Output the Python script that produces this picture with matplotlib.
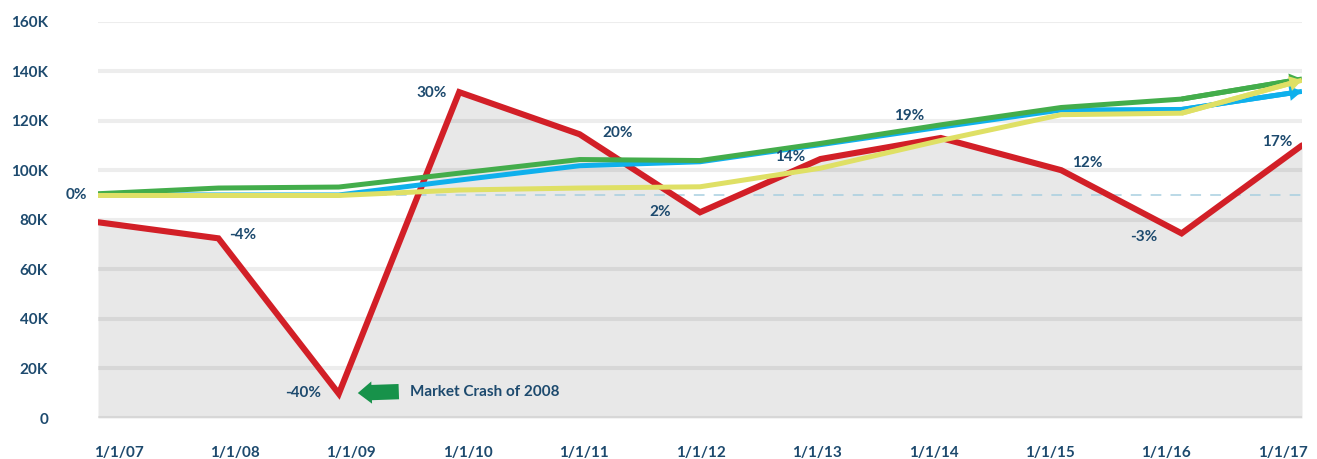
#!/usr/bin/env python3
# Динамика портфелей 2007-2017 и годовая доходность (красная линия)

import numpy as np
import matplotlib.pyplot as plt

# --- Данные ---
DATES = ["1/1/07", "1/1/08", "1/1/09", "1/1/10", "1/1/11", "1/1/12",
         "1/1/13", "1/1/14", "1/1/15", "1/1/16", "1/1/17"]

RED = [79000, 72500, 9800, 131500, 114500, 83000, 104500, 113000, 100000, 74500, 110000]
GREEN = [90500, 92800, 93200, 98800, 104300, 103900, 110800, 118300, 125300, 128700, 136800]
BLUE = [90000, 90000, 90000, 96000, 101800, 103400, 110300, 117400, 124300, 124500, 131800]
YELLOW = [89800, 89800, 89800, 92000, 92800, 93300, 100800, 112000, 122400, 123000, 136300]

BASELINE = 90000
PCT_LABELS = ["0%", "-4%", "-40%", "30%", "20%", "2%", "14%", "19%", "12%", "-3%", "17%"]
YTICKS = [0, 20000, 40000, 60000, 80000, 100000, 120000, 140000, 160000]
YTICK_LABELS = ["0", "20K", "40K", "60K", "80K", "100K", "120K", "140K", "160K"]
CRASH_TEXT = "Market Crash of 2008"

NAVY = "#1d4a6e"
C_RED = "#d21f27"
C_GREEN = "#43ad4b"
C_BLUE = "#0fb0ec"
C_YELLOW = "#dfe065"
C_ARROW = "#17924a"
FONT = "Lato"
FS = 11

# смещения подписей процентов от точек красной линии, в пикселях (dx, dy)
LABEL_OFFS = [(-22, 0), (24, 3), (-36, 1), (-28, -1), (38, 1), (-40, 0),
              (-30, 2), (-32, 22), (26, 7), (-38, -4), (-25, 3)]

fig = plt.figure(figsize=(13.17, 4.59), dpi=100)
ax = fig.add_axes([98 / 1317, 1 - 418 / 459, 1204 / 1317, (418 - 21.5) / 459])

x = np.arange(len(DATES))

# серая заливка под красной линией
ax.fill_between(x, RED, 0, color="#e8e8e8", lw=0, zorder=1)
for t in YTICKS:
    ax.axhline(t, color="black", alpha=0.07, lw=3, zorder=2)
ax.axhline(BASELINE, color="#a8cfe0", lw=1.1, dashes=(7, 6), zorder=2)

ax.plot(x, RED, color=C_RED, lw=4.4, solid_capstyle="round", solid_joinstyle="miter", zorder=3)
for vals, col, z in [(BLUE, C_BLUE, 4), (GREEN, C_GREEN, 5), (YELLOW, C_YELLOW, 6)]:
    ax.plot(x, vals, color=col, lw=3.6, solid_capstyle="butt", solid_joinstyle="miter", zorder=z)
    # стрелка на конце линии
    ax.annotate("", xy=(x[-1], vals[-1]), xytext=(x[-2], vals[-2]),
                arrowprops=dict(arrowstyle="simple,head_length=9,head_width=11,tail_width=3.6",
                                mutation_scale=1, color=col, lw=0, shrinkA=0, shrinkB=0),
                zorder=z)

# подписи процентов
for i, (lab, (dx, dy)) in enumerate(zip(PCT_LABELS, LABEL_OFFS)):
    yy = BASELINE if i == 0 else RED[i]
    ax.annotate(lab, xy=(x[i], yy), xytext=(dx * 0.72, dy * 0.72), textcoords="offset points",
                ha="center", va="center", fontsize=FS, fontweight="bold", color=NAVY,
                family=FONT, annotation_clip=False, zorder=8)

# зелёная стрелка "Market Crash of 2008"
ax.annotate("", xy=(x[2], RED[2]), xytext=(60 * 0.72, 1.5), textcoords="offset points",
            arrowprops=dict(arrowstyle="simple,head_length=10,head_width=16,tail_width=11",
                            mutation_scale=1, color=C_ARROW, lw=0, shrinkA=0, shrinkB=19 * 0.72),
            zorder=8)
ax.annotate(CRASH_TEXT, xy=(x[2], RED[2]), xytext=(71 * 0.72, 1.5), textcoords="offset points",
            ha="left", va="center", fontsize=FS, fontweight="bold", color=NAVY, family=FONT,
            zorder=8)

ax.set_xlim(x[0], x[-1])
ax.set_ylim(0, 160000)
# подписи дат в исходнике стоят чуть внутри, а не точно под точками
ax.set_xticks(np.linspace(0.17, 9.84, len(DATES)))
ax.set_xticklabels(DATES)
ax.set_yticks(YTICKS)
ax.set_yticklabels(YTICK_LABELS)
ax.tick_params(length=0, colors=NAVY, labelsize=FS)
ax.tick_params(axis="y", pad=36)
ax.tick_params(axis="x", pad=20)
for lab in ax.get_xticklabels() + ax.get_yticklabels():
    lab.set_fontweight("bold")
    lab.set_family(FONT)
for s in ax.spines.values():
    s.set_visible(False)

fig.savefig("out.png", dpi=100)
